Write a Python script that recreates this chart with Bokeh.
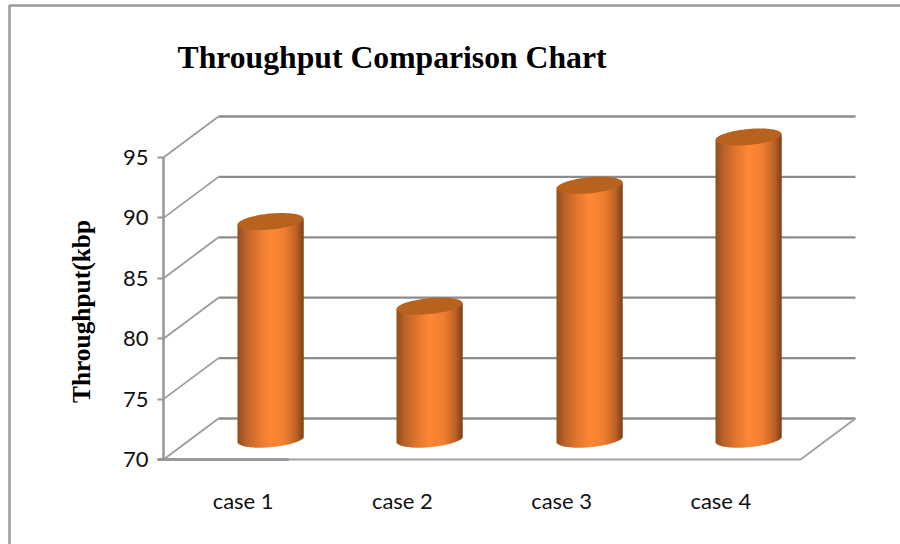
import numpy as np
from bokeh.embed import file_html
from bokeh.models import FixedTicker, Label, LinearAxis, Range1d
from bokeh.plotting import figure
from bokeh.resources import INLINE

cases = ["case 1", "case 2", "case 3", "case 4"]
throughput = [88, 81, 91, 95]
tick_values = [70, 75, 80, 85, 90, 95]
title_text = "Throughput Comparison Chart"
y_title = "Throughput(kbp"

# Pixel scale of the plot box: one category slot and one kbps unit.
SLOT_PX = 159.25
UNIT_PX = 12.08
X0_PX = 163
Y0_PX = 459
W, H = 900, 544


def px_x(px):
    return 0.5 + (px - X0_PX) / SLOT_PX


def px_y(py):
    return 70 + (Y0_PX - py) / UNIT_PX


# Depth of the 3D box in data units.
DEPTH_X = 55 / SLOT_PX
DEPTH_Y = 41 / UNIT_PX
BASE = 70
X_MIN, X_MAX = 0.5, 4.5

p = figure(
    width=W, height=H, output_backend="svg", toolbar_location=None,
    x_range=Range1d(px_x(0), px_x(W)), y_range=Range1d(px_y(H), px_y(0)),
    min_border=0, x_axis_type=None, y_axis_type=None,
    background_fill_color="white", border_fill_color="white",
    outline_line_color=None,
)
p.xgrid.visible = False
p.ygrid.visible = False

GRID = "#8c8c8c"

# Page rule along the top and left.
p.line([px_x(9), px_x(9), px_x(W)], [px_y(H), px_y(5), px_y(5)],
       line_color="#9a9a9a", line_width=2.5)

# Back wall lines and the slanted side-wall lines.
for v in tick_values:
    p.line([X_MIN + DEPTH_X, X_MAX + DEPTH_X], [v + DEPTH_Y, v + DEPTH_Y],
           line_color=GRID, line_width=2.3)
    p.line([X_MIN, X_MIN + DEPTH_X], [v, v + DEPTH_Y],
           line_color="#9c9c9c", line_width=1.8)

# Floor front, right edge.
p.line([X_MIN, X_MAX, X_MAX + DEPTH_X], [BASE, BASE, BASE + DEPTH_Y],
       line_color="#a0a0a0", line_width=1.8)
p.line([px_x(157), px_x(288)], [BASE, BASE], line_color="#9a9a9a", line_width=3)

# Horizontal shading across a cylinder, left to right.
SHADE_T = [0.0, 0.12, 0.32, 0.5, 0.72, 0.9, 1.0]
SHADE_R = [145, 185, 228, 255, 240, 185, 125]
SHADE_G = [78, 98, 120, 136, 127, 96, 66]
SHADE_B = [30, 42, 48, 54, 48, 38, 24]

HALF_PX = 33
SHEAR = 3.0 / UNIT_PX
CAP = 8.0 / UNIT_PX

for i, val in enumerate(throughput):
    cx = i + 1 + DEPTH_X / 2
    top = val + DEPTH_Y / 2
    bottom = BASE + DEPTH_Y / 2
    cx_px = round(X0_PX + (cx - 0.5) * SLOT_PX)
    edges_px = np.arange(cx_px - HALF_PX, cx_px + HALF_PX + 1)
    mid = (edges_px[:-1] + 0.5 - cx_px) / HALF_PX
    t = (mid + 1) / 2
    colors = [
        "#%02x%02x%02x" % (int(r), int(g), int(b))
        for r, g, b in zip(np.interp(t, SHADE_T, SHADE_R),
                           np.interp(t, SHADE_T, SHADE_G),
                           np.interp(t, SHADE_T, SHADE_B))
    ]
    strip_bottom = bottom + SHEAR * mid - CAP * np.sqrt(1 - mid ** 2)
    strip_top = top + SHEAR * mid
    # Each strip runs a pixel under its right neighbour, which hides the seams.
    rights_px = np.minimum(edges_px[1:] + 1, edges_px[-1])
    p.quad(left=px_x(edges_px[:-1]), right=px_x(rights_px),
           bottom=strip_bottom, top=strip_top, fill_color=colors, line_color=None)

    # Elliptical cap, sheared to follow the box's slant.
    a = np.linspace(0, 2 * np.pi, 73)
    cu = np.cos(a)
    p.patch(px_x(cx_px + cu * HALF_PX), top + SHEAR * cu + CAP * np.sin(a),
            fill_color="#b8621f", line_color=None)

# Axes sit inside the canvas at the front edges of the box.
yaxis = LinearAxis(
    fixed_location=X_MIN, ticker=FixedTicker(ticks=tick_values),
    bounds=(70, 95),
    axis_line_color="#969696", axis_line_width=2.5,
    major_tick_line_color="#969696", major_tick_line_width=2,
    major_tick_in=0, major_tick_out=6, minor_tick_line_color=None,
    major_label_text_font="Lato", major_label_text_font_size="22px",
    major_label_text_color="#111111", major_label_standoff=9,
)
p.add_layout(yaxis, "left")

xaxis = LinearAxis(
    fixed_location=BASE, ticker=FixedTicker(ticks=[1, 2, 3, 4]),
    major_label_overrides={i + 1: c for i, c in enumerate(cases)},
    bounds=(X_MIN, X_MAX),
    axis_line_color=None, major_tick_line_color=None, minor_tick_line_color=None,
    major_label_text_font="Lato", major_label_text_font_size="22px",
    major_label_text_color="#111111", major_label_standoff=21,
)
p.add_layout(xaxis, "below")

p.add_layout(Label(
    x=px_x(177), y=px_y(57), text=title_text, text_baseline="alphabetic",
    text_font="Liberation Serif", text_font_style="bold",
    text_font_size="31.7px", text_color="#000000",
))
p.add_layout(Label(
    x=px_x(80), y=px_y(311), text=y_title, angle=90, angle_units="deg",
    text_align="center", text_baseline="alphabetic",
    text_font="Liberation Serif", text_font_style="bold",
    text_font_size="25.4px", text_color="#000000",
))

open("out.html", "w").write(file_html(p, INLINE))
